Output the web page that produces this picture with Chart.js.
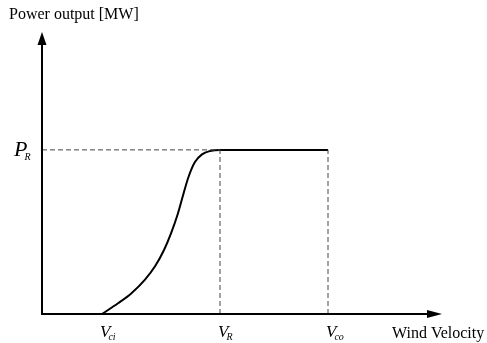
<!DOCTYPE html>
<html lang="en">
<head>
  <meta charset="UTF-8">
  <title>Wind Turbine Power Curve</title>
  <script src="https://cdn.jsdelivr.net/npm/chart.js"></script>
  <style>
    body { margin: 0; background: #fff; }
    .chart-box { width: 487px; height: 343px; }
  </style>
</head>
<body>
  <div class="chart-box">
    <canvas id="powerChart" width="487" height="343"></canvas>
  </div>

  <script>
    // Power curve (wind speed, power), arbitrary units 0..100
    const curveSpeed = [15, 19, 22.3, 25.7, 28.3, 30.5, 32.3, 33.9, 35.3, 36.6, 38.2, 40, 42, 44.5, 71.5];
    const curvePower = [0, 3.8, 7.3, 12.1, 17.0, 22.7, 28.8, 35.3, 42.3, 48.5, 53.8, 56.6, 57.8, 58.2, 58.2];

    // Marked speeds and rated power
    const speedMarks = [15, 44.5, 71.5];
    const speedLabels = [['V', 'ci'], ['V', 'R'], ['V', 'co']];
    const ratedPower = 58.2;
    const axisMax = [100, 100];

    const curvePoints = curveSpeed.map((v, i) => ({ x: v, y: curvePower[i] }));

    const dashStyle = {
      borderColor: '#444',
      borderWidth: 1,
      borderDash: [5, 3],
      pointRadius: 0,
      fill: false,
    };

    // Axes with arrows and the italic labels
    const axisPlugin = {
      id: 'axisArrows',
      afterDatasetsDraw(chart) {
        const ctx = chart.ctx;
        const xs = chart.scales.x;
        const ys = chart.scales.y;
        const x0 = xs.getPixelForValue(0);
        const y0 = ys.getPixelForValue(0);
        const xEnd = xs.getPixelForValue(axisMax[0]);
        const yEnd = ys.getPixelForValue(axisMax[1]);

        ctx.save();
        ctx.strokeStyle = '#000';
        ctx.fillStyle = '#000';
        ctx.lineWidth = 2;

        // x axis
        ctx.beginPath();
        ctx.moveTo(x0, y0);
        ctx.lineTo(xEnd - 10, y0);
        ctx.stroke();
        ctx.beginPath();
        ctx.moveTo(xEnd, y0);
        ctx.lineTo(xEnd - 15, y0 - 4);
        ctx.lineTo(xEnd - 15, y0 + 4);
        ctx.closePath();
        ctx.fill();

        // y axis
        ctx.beginPath();
        ctx.moveTo(x0, y0 + 1);
        ctx.lineTo(x0, yEnd + 10);
        ctx.stroke();
        ctx.beginPath();
        ctx.moveTo(x0, yEnd);
        ctx.lineTo(x0 - 4.5, yEnd + 13);
        ctx.lineTo(x0 + 4.5, yEnd + 13);
        ctx.closePath();
        ctx.fill();

        // axis titles
        ctx.font = '16px "Liberation Serif", "Times New Roman", serif';
        ctx.textBaseline = 'alphabetic';
        ctx.textAlign = 'left';
        ctx.fillText('Power output [MW]', 9, 19);
        ctx.fillText('Wind Velocity', 392, 338);

        // speed labels
        speedMarks.forEach((v, i) => {
          const px = xs.getPixelForValue(v) - 2;
          ctx.font = 'italic 17px "Liberation Serif", serif';
          ctx.fillText(speedLabels[i][0], px, 337);
          const w = ctx.measureText(speedLabels[i][0]).width;
          ctx.font = 'italic 10px "Liberation Serif", serif';
          ctx.fillText(speedLabels[i][1], px + w - 2, 340);
        });

        // rated power label
        const py = ys.getPixelForValue(ratedPower);
        ctx.font = 'italic 22px "Liberation Serif", serif';
        ctx.fillText('P', 14, py + 6);
        const pw = ctx.measureText('P').width;
        ctx.font = 'italic 10px "Liberation Serif", serif';
        ctx.fillText('R', 14 + pw - 3, py + 10);

        ctx.restore();
      }
    };

    new Chart(document.getElementById('powerChart').getContext('2d'), {
      type: 'scatter',
      data: {
        datasets: [
          {
            ...dashStyle,
            showLine: true,
            data: [{ x: 0, y: ratedPower }, { x: speedMarks[1], y: ratedPower }],
          },
          {
            ...dashStyle,
            showLine: true,
            data: [{ x: speedMarks[1], y: 0 }, { x: speedMarks[1], y: ratedPower }],
          },
          {
            ...dashStyle,
            showLine: true,
            data: [{ x: speedMarks[2], y: 0 }, { x: speedMarks[2], y: ratedPower }],
          },
          {
            showLine: true,
            data: curvePoints,
            borderColor: '#000',
            borderWidth: 2,
            pointRadius: 0,
            cubicInterpolationMode: 'monotone',
            fill: false,
          },
        ],
      },
      options: {
        responsive: false,
        animation: false,
        layout: { padding: { left: 42, right: 45, top: 32, bottom: 29 } },
        plugins: {
          legend: { display: false },
          tooltip: { enabled: false },
        },
        scales: {
          x: { type: 'linear', min: 0, max: axisMax[0], display: false },
          y: { type: 'linear', min: 0, max: axisMax[1], display: false },
        },
      },
      plugins: [axisPlugin],
    });
  </script>
</body>
</html>
